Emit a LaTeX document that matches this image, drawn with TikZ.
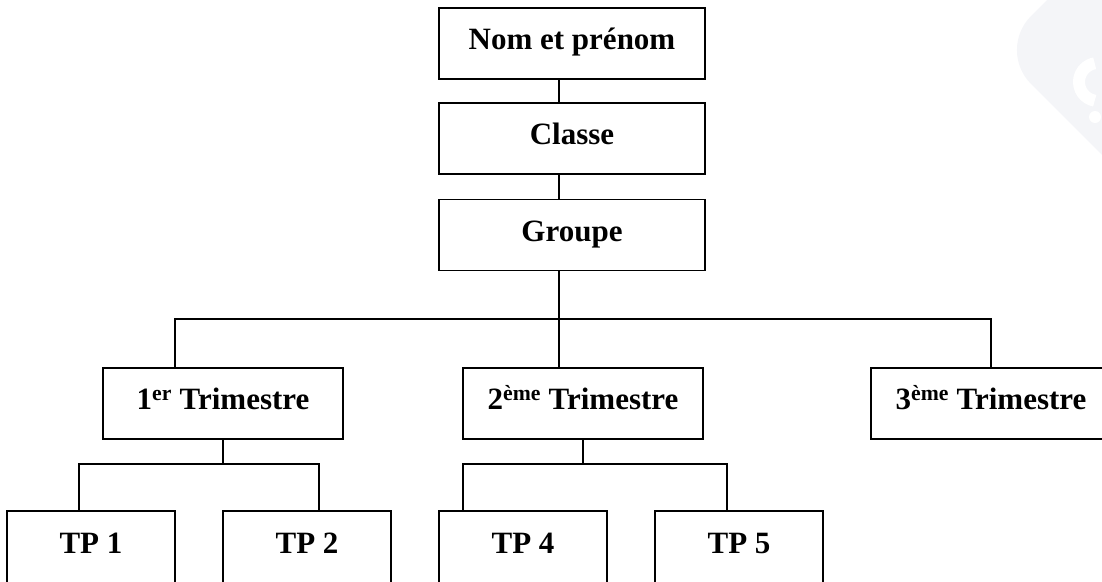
\documentclass[tikz,border=0pt]{standalone}
\usepackage{fontspec}
\setmainfont{Liberation Serif}
\usetikzlibrary{calc}
\definecolor{wmgrey}{RGB}{244,245,248}
\tikzset{
  box/.style={draw=black, line width=1.3pt, fill=white, inner sep=0pt,
    text height=20pt, text depth=8pt,
    font=\bfseries\fontsize{31}{36}\selectfont},
  topbox/.style={box, minimum width=266pt, minimum height=71pt},
  tribox/.style={box, minimum width=240pt, minimum height=71pt},
  tpbox/.style={box, minimum width=168pt, minimum height=72pt},
  link/.style={draw=black, line width=1.3pt},
}
\begin{document}
\begin{tikzpicture}[x=1pt,y=-1pt]
\useasboundingbox (0,0) rectangle (1102,581);
\clip (0,0) rectangle (1102,581);
% faint watermark
\fill[wmgrey, rounded corners=48pt, rotate around={45:(1152.6,50)}]
  (1042.6,-60) rectangle (1262.6,160);
\draw[white, line width=12pt] (1098,82) ++(100:19) arc[start angle=100, end angle=260, radius=19];
\fill[white] (1095,117) circle[radius=6];
% top column
\node[topbox] (nom) at (572,43.5) {Nom et prénom};
\node[topbox] (classe) at (572,138.5) {Classe};
\node[topbox] (groupe) at (572,235) {Groupe};
% trimesters
\node[tribox] (t1) at (223,403.5) {1\textsuperscript{er} Trimestre};
\node[tribox] (t2) at (583,403.5) {2\textsuperscript{ème} Trimestre};
\node[tribox] (t3) at (991,403.5) {3\textsuperscript{ème} Trimestre};
% TPs
\node[tpbox] (tp1) at (91,547) {TP 1};
\node[tpbox] (tp2) at (307,547) {TP 2};
\node[tpbox] (tp4) at (523,547) {TP 4};
\node[tpbox] (tp5) at (739,547) {TP 5};
% helper coordinates
\coordinate (spine) at (559,0);
\coordinate (busL) at (175,319);
\coordinate (busR) at (991,319);
\coordinate (s1L) at (79,464);
\coordinate (s1R) at (319,464);
\coordinate (s2L) at (463,464);
\coordinate (s2R) at (727,464);
% connectors
\draw[link] (nom.south -| spine) -- (classe.north -| spine);
\draw[link] (classe.south -| spine) -- (groupe.north -| spine);
\draw[link] (groupe.south -| spine) -- (spine |- busL);
\draw[link] (t1.north -| busL) -- (busL) -- (busR) -- (t3.north);
\draw[link] (spine |- busL) -- (t2.north -| spine);
\draw[link] (t1.south) -- (t1.south |- s1L);
\draw[link] (tp1.north -| s1L) -- (s1L) -- (s1R) -- (tp2.north -| s1R);
\draw[link] (t2.south) -- (t2.south |- s2L);
\draw[link] (tp4.north -| s2L) -- (s2L) -- (s2R) -- (tp5.north -| s2R);
\end{tikzpicture}
\end{document}
